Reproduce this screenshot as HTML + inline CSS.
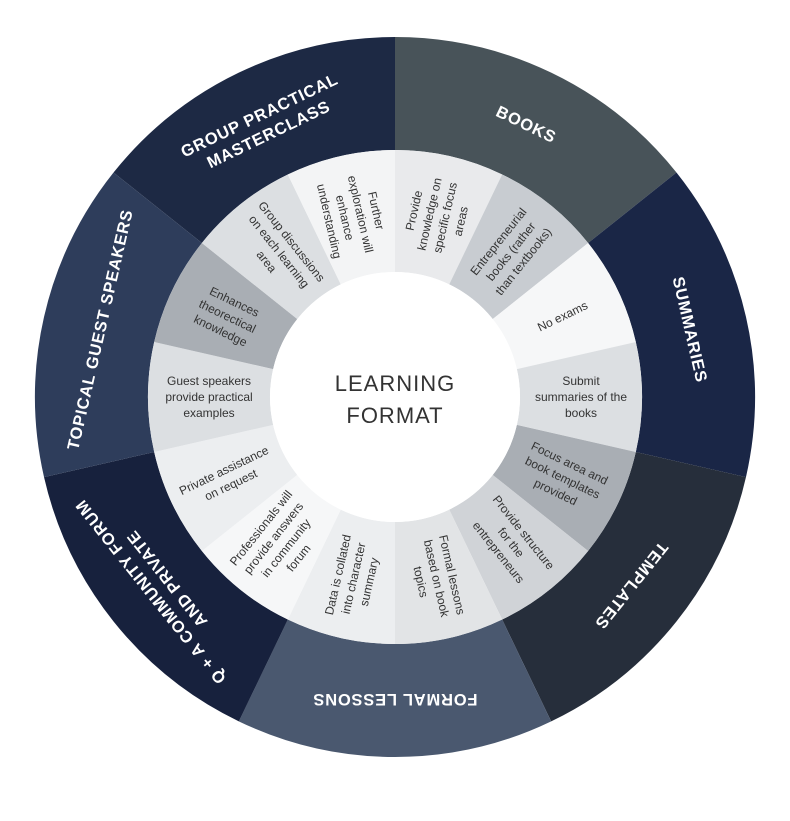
<!DOCTYPE html>
<html><head><meta charset="utf-8"><style>
html,body{margin:0;padding:0;background:#fff;}
svg{display:block;}
.o{font-family:"Liberation Sans",sans-serif;font-weight:bold;font-size:16.5px;fill:#fff;letter-spacing:0.8px;text-anchor:middle;}
.i{font-family:"Liberation Sans",sans-serif;font-size:12px;fill:#333;text-anchor:middle;}
.c{font-family:"Liberation Sans",sans-serif;font-size:22px;fill:#333;text-anchor:middle;letter-spacing:1px;}
</style></head><body>
<svg width="790" height="821" viewBox="0 0 790 821" xmlns="http://www.w3.org/2000/svg">
<g fill="none" stroke-width="113">
<circle cx="395" cy="397" r="303.5" stroke="#1d2944" stroke-dasharray="272.4 2000" transform="rotate(218.57 395 397)"/>
<circle cx="395" cy="397" r="303.5" stroke="#485359" stroke-dasharray="272.4 2000" transform="rotate(-90 395 397)"/>
<circle cx="395" cy="397" r="303.5" stroke="#1a2646" stroke-dasharray="272.4 2000" transform="rotate(-38.57 395 397)"/>
<circle cx="395" cy="397" r="303.5" stroke="#262e3b" stroke-dasharray="272.4 2000" transform="rotate(12.86 395 397)"/>
<circle cx="395" cy="397" r="303.5" stroke="#4a586f" stroke-dasharray="272.4 2000" transform="rotate(64.29 395 397)"/>
<circle cx="395" cy="397" r="303.5" stroke="#17213d" stroke-dasharray="272.4 2000" transform="rotate(115.71 395 397)"/>
<circle cx="395" cy="397" r="303.5" stroke="#2e3d5b" stroke-dasharray="272.4 2000" transform="rotate(167.14 395 397)"/>
</g>
<g fill="none" stroke-width="122">
<circle cx="395" cy="397" r="186" stroke="#e9eaec" stroke-dasharray="83.48 2000" transform="rotate(-90 395 397)"/>
<circle cx="395" cy="397" r="186" stroke="#c8ccd1" stroke-dasharray="83.48 2000" transform="rotate(-64.29 395 397)"/>
<circle cx="395" cy="397" r="186" stroke="#f6f7f8" stroke-dasharray="83.48 2000" transform="rotate(-38.57 395 397)"/>
<circle cx="395" cy="397" r="186" stroke="#dcdfe2" stroke-dasharray="83.48 2000" transform="rotate(-12.86 395 397)"/>
<circle cx="395" cy="397" r="186" stroke="#a9aeb4" stroke-dasharray="83.48 2000" transform="rotate(12.86 395 397)"/>
<circle cx="395" cy="397" r="186" stroke="#d0d3d7" stroke-dasharray="83.48 2000" transform="rotate(38.57 395 397)"/>
<circle cx="395" cy="397" r="186" stroke="#e2e4e6" stroke-dasharray="83.48 2000" transform="rotate(64.29 395 397)"/>
<circle cx="395" cy="397" r="186" stroke="#eceef0" stroke-dasharray="83.48 2000" transform="rotate(90 395 397)"/>
<circle cx="395" cy="397" r="186" stroke="#f6f7f8" stroke-dasharray="83.48 2000" transform="rotate(115.71 395 397)"/>
<circle cx="395" cy="397" r="186" stroke="#eceef0" stroke-dasharray="83.48 2000" transform="rotate(141.43 395 397)"/>
<circle cx="395" cy="397" r="186" stroke="#dcdfe2" stroke-dasharray="83.48 2000" transform="rotate(167.14 395 397)"/>
<circle cx="395" cy="397" r="186" stroke="#a9aeb4" stroke-dasharray="83.48 2000" transform="rotate(192.86 395 397)"/>
<circle cx="395" cy="397" r="186" stroke="#dcdfe2" stroke-dasharray="83.48 2000" transform="rotate(218.57 395 397)"/>
<circle cx="395" cy="397" r="186" stroke="#f3f4f5" stroke-dasharray="83.48 2000" transform="rotate(244.29 395 397)"/>
</g>
<circle cx="395" cy="397" r="125" fill="#fff"/>
<text class="c" x="395" y="391">LEARNING</text>
<text class="c" x="395" y="423">FORMAT</text>

<g transform="rotate(-25.71 395 397) translate(395 94)"><text class="o" y="-4">GROUP PRACTICAL</text><text class="o" y="17">MASTERCLASS</text></g>
<g transform="rotate(25.71 395 397) translate(395 94)"><text class="o" y="6">BOOKS</text></g>
<g transform="rotate(77.14 395 397) translate(395 94)"><text class="o" y="6">SUMMARIES</text></g>
<g transform="rotate(128.57 395 397) translate(395 94)"><text class="o" y="6">TEMPLATES</text></g>
<g transform="rotate(180 395 397) translate(395 94)"><text class="o" y="6">FORMAL LESSONS</text></g>
<g transform="rotate(231.43 395 397) translate(395 94)"><text class="o" y="-4">Q + A COMMUNITY FORUM</text><text class="o" y="17">AND PRIVATE</text></g>
<g transform="rotate(282.86 395 397) translate(395 94)"><text class="o" y="6">TOPICAL GUEST SPEAKERS</text></g>

<g transform="rotate(12.86 395 397) translate(395 211) rotate(-90)"><text class="i" y="-19">Provide</text><text class="i" y="-3">knowledge on</text><text class="i" y="13">specific focus</text><text class="i" y="29">areas</text></g>
<g transform="rotate(38.57 395 397) translate(395 211) rotate(-90)"><text class="i" y="-12">Entrepreneurial</text><text class="i" y="4">books (rather</text><text class="i" y="20">than textbooks)</text></g>
<g transform="rotate(64.29 395 397) translate(395 211) rotate(-90)"><text class="i" y="4">No exams</text></g>
<g transform="rotate(90 395 397) translate(395 211) rotate(-90)"><text class="i" y="-12">Submit</text><text class="i" y="4">summaries of the</text><text class="i" y="20">books</text></g>
<g transform="rotate(115.71 395 397) translate(395 211) rotate(-90)"><text class="i" y="-12">Focus area and</text><text class="i" y="4">book templates</text><text class="i" y="20">provided</text></g>
<g transform="rotate(141.43 395 397) translate(395 211) rotate(-90)"><text class="i" y="-12">Provide structure</text><text class="i" y="4">for the</text><text class="i" y="20">entrepreneurs</text></g>
<g transform="rotate(167.14 395 397) translate(395 211) rotate(-90)"><text class="i" y="-12">Formal lessons</text><text class="i" y="4">based on book</text><text class="i" y="20">topics</text></g>
<g transform="rotate(192.86 395 397) translate(395 211) rotate(90)"><text class="i" y="-12">Data is collated</text><text class="i" y="4">into character</text><text class="i" y="20">summary</text></g>
<g transform="rotate(218.57 395 397) translate(395 211) rotate(90)"><text class="i" y="-19">Professionals will</text><text class="i" y="-3">provide answers</text><text class="i" y="13">in community</text><text class="i" y="29">forum</text></g>
<g transform="rotate(244.29 395 397) translate(395 211) rotate(90)"><text class="i" y="-4">Private assistance</text><text class="i" y="12">on request</text></g>
<g transform="rotate(270 395 397) translate(395 211) rotate(90)"><text class="i" y="-12">Guest speakers</text><text class="i" y="4">provide practical</text><text class="i" y="20">examples</text></g>
<g transform="rotate(295.71 395 397) translate(395 211) rotate(90)"><text class="i" y="-12">Enhances</text><text class="i" y="4">theorectical</text><text class="i" y="20">knowledge</text></g>
<g transform="rotate(321.43 395 397) translate(395 211) rotate(90)"><text class="i" y="-12">Group discussions</text><text class="i" y="4">on each learning</text><text class="i" y="20">area</text></g>
<g transform="rotate(347.14 395 397) translate(395 211) rotate(90)"><text class="i" y="-19">Further</text><text class="i" y="-3">exploration will</text><text class="i" y="13">enhance</text><text class="i" y="29">understanding</text></g>
</svg>
</body></html>
